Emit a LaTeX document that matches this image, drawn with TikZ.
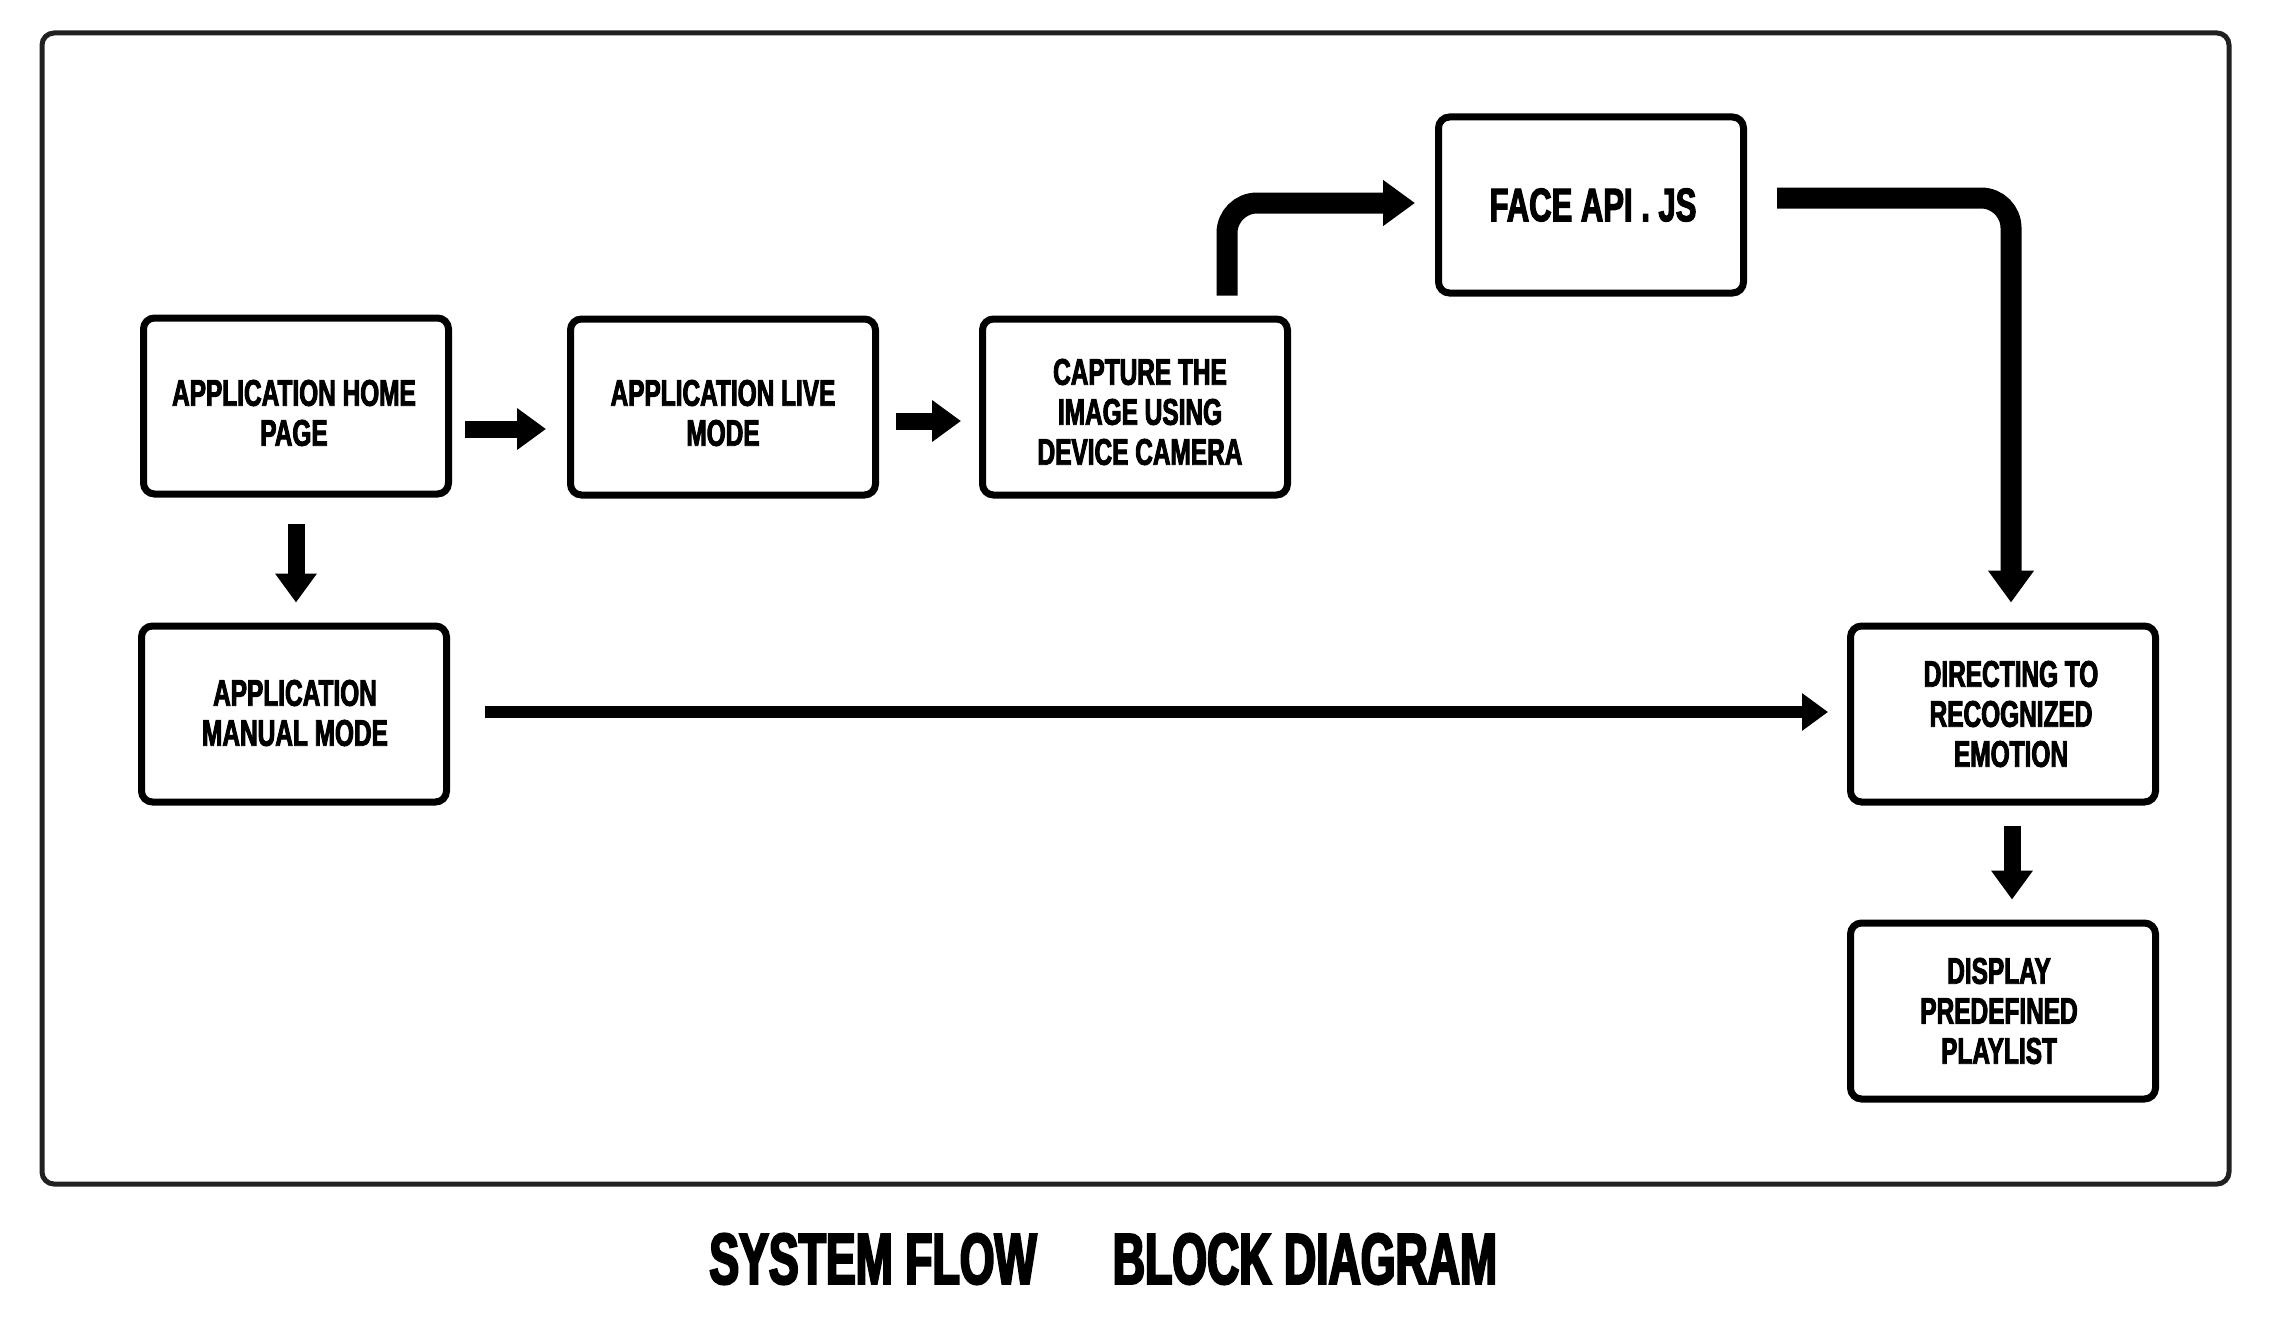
\documentclass[tikz,border=0pt]{standalone}
\usepackage{fontspec}
\newfontfamily\impact[FakeStretch=0.66,FakeBold=2.5]{Liberation Sans}
\newfontfamily\impacttitle[FakeStretch=0.62,FakeBold=3]{Liberation Sans}
\usetikzlibrary{arrows.meta}
\tikzset{
  box/.style={draw=black, line width=7pt, rounded corners=11pt, minimum width=305pt, minimum height=176pt,
    inner sep=0pt},
  boxtext/.style={align=center, inner sep=0pt, font=\impact\bfseries\fontsize{37}{40}\selectfont},
  fat/.style={line width=17pt, -{Triangle[length=29pt,width=40pt]}},
  fatter/.style={line width=21pt, rounded corners=30pt, -{Triangle[length=32pt,width=44pt]}},
  slimarrow/.style={line width=12pt, -{Triangle[length=26pt,width=36pt]}},
  titletext/.style={font=\impacttitle\bfseries\fontsize{72}{80}\selectfont, inner sep=0pt}
}
\begin{document}
\begin{tikzpicture}[x=1pt,y=-1pt]
\useasboundingbox (0,0) rectangle (2269,1335);
\fill[white] (0,0) rectangle (2269,1335);
\draw[line width=5pt, draw=black!87, rounded corners=12pt] (42,33) rectangle (2229,1184);

\node[box, label={[boxtext, yshift=-7pt, xshift=-2pt]center:{APPLICATION HOME\\PAGE}}] (home) at (296,406) {};
\node[box, label={[boxtext, yshift=-6pt]center:{APPLICATION LIVE\\MODE}}] (live) at (723,407) {};
\node[box, label={[boxtext, yshift=-5pt, xshift=5pt]center:{CAPTURE THE\\IMAGE USING\\DEVICE CAMERA}}] (cap) at (1135,407) {};
\node[box, label={[boxtext, font=\impact\bfseries\fontsize{47}{50}\selectfont, xshift=2pt]center:{FACE API . JS}}] (face) at (1591,205) {};
\node[box, label={[boxtext, yshift=1pt, xshift=1pt]center:{APPLICATION\\MANUAL MODE}}] (man) at (294,714) {};
\node[box, label={[boxtext, xshift=8pt]center:{DIRECTING TO\\RECOGNIZED\\EMOTION}}] (dir) at (2003,714) {};
\node[box, label={[boxtext, xshift=-4pt]center:{DISPLAY\\PREDEFINED\\PLAYLIST}}] (disp) at (2003,1011) {};

\draw[fat] ([xshift=13pt,yshift=-23pt]home.east) -- ([xshift=-21pt,yshift=-22pt]live.west);
\draw[fat] ([xshift=17pt,yshift=-14pt]live.east) -- ([xshift=-18pt,yshift=-14pt]cap.west);
\draw[fatter] ([xshift=92pt,yshift=20pt]cap.north) |- ([xshift=-20pt,yshift=2pt]face.west);
\draw[fatter] ([xshift=30pt,yshift=7pt]face.east) -| ([xshift=8pt,yshift=20pt]dir.north);
\draw[fat] ([yshift=-26pt]home.south) -- ([yshift=20pt]home.south |- man.north);
\draw[slimarrow] ([xshift=35pt,yshift=2pt]man.east) -- ([xshift=-19pt,yshift=2pt]dir.west);
\draw[fat] ([xshift=9pt,yshift=-20pt]dir.south) -- ([xshift=9pt,yshift=20pt]disp.north);

\node[titletext] (t1) at (873,1259) {SYSTEM FLOW};
\node[titletext] (t2) at (1305,1259) {BLOCK DIAGRAM};
\end{tikzpicture}
\end{document}
